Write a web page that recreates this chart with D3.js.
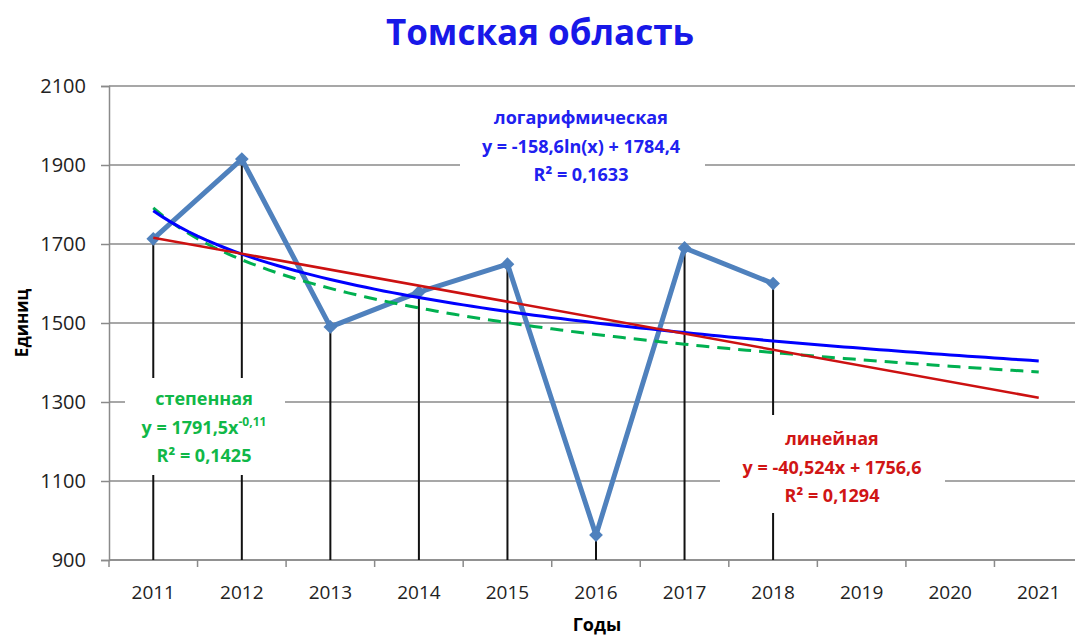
<!DOCTYPE html>
<html>
<head>
<meta charset="utf-8">
<script src="https://cdn.jsdelivr.net/npm/d3@7"></script>
<style>
  body { margin: 0; background: #fff; }
  svg { display: block; font-family: "Open Sans", "DejaVu Sans", sans-serif; }
</style>
</head>
<body>
<div id="chart"></div>
<script>
// categories and series
const years = ["2011", "2012", "2013", "2014", "2015", "2016", "2017", "2018", "2019", "2020", "2021"];
const values = [1713, 1915, 1490, 1578, 1649, 963, 1690, 1600];
const yTicks = [900, 1100, 1300, 1500, 1700, 1900, 2100];

// trend line coefficients, as printed on the chart
const linCoef = [-40.524, 1756.6];
const logCoef = [-158.6, 1784.4];
const powCoef = [1791.5, -0.11];

const W = 1075, H = 637;
const margin = { top: 86, right: -8, bottom: 77, left: 109 };

const svg = d3.select("#chart").append("svg")
    .attr("width", W)
    .attr("height", H);

const x = d3.scaleBand()
    .domain(years)
    .range([margin.left, W - margin.right]);

const y = d3.scaleLinear()
    .domain([900, 2100])
    .range([H - margin.bottom, margin.top]);

// x position for a trend "period" t (1 = first category)
const xt = t => x(years[0]) + x.bandwidth() / 2 + (t - 1) * x.step();

// title
svg.append("text")
    .attr("x", 540).attr("y", 45)
    .attr("text-anchor", "middle")
    .attr("font-size", 35).attr("font-weight", "bold")
    .attr("fill", "#1818e8")
    .text("Томская область");

// horizontal grid
svg.append("g")
    .selectAll("line")
    .data(yTicks)
    .enter().append("line")
    .attr("x1", margin.left).attr("x2", W)
    .attr("y1", d => y(d)).attr("y2", d => y(d))
    .attr("stroke", "#8a8a8a").attr("stroke-width", 1.5);

// y axis
const yAxis = svg.append("g")
    .attr("transform", "translate(" + margin.left + ",0)")
    .call(d3.axisLeft(y).tickValues(yTicks).tickSize(8).tickPadding(15).tickFormat(d3.format("d")));
yAxis.select(".domain").attr("stroke", "#8a8a8a").attr("stroke-width", 1.5);
yAxis.selectAll(".tick line").attr("stroke", "#8a8a8a").attr("stroke-width", 1.5);
yAxis.selectAll("text").attr("font-size", 20).attr("fill", "#222").attr("font-family", "Open Sans");

// x axis (ticks between categories)
const xAxis = svg.append("g")
    .attr("transform", "translate(0," + y(900) + ")");
xAxis.append("line")
    .attr("x1", margin.left).attr("x2", W)
    .attr("stroke", "#8a8a8a").attr("stroke-width", 1.5);
xAxis.selectAll(".tk")
    .data(years)
    .enter().append("line")
    .attr("x1", d => x(d)).attr("x2", d => x(d))
    .attr("y1", 0).attr("y2", 7)
    .attr("stroke", "#8a8a8a").attr("stroke-width", 1.5);
xAxis.selectAll(".lbl")
    .data(years)
    .enter().append("text")
    .attr("x", d => x(d) + x.bandwidth() / 2)
    .attr("y", 39)
    .attr("text-anchor", "middle")
    .attr("font-size", 19).attr("fill", "#222")
    .text(d => d);

// axis titles
svg.append("text")
    .attr("x", 597).attr("y", 631)
    .attr("text-anchor", "middle")
    .attr("font-size", 18).attr("font-weight", "bold")
    .text("Годы");
svg.append("text")
    .attr("transform", "translate(28,323) rotate(-90)")
    .attr("text-anchor", "middle")
    .attr("font-size", 17).attr("font-weight", "bold")
    .text("Единиц");

// drop lines
const cx = (d, i) => x(years[i]) + x.bandwidth() / 2;
svg.append("g")
    .selectAll("line")
    .data(values)
    .enter().append("line")
    .attr("x1", cx).attr("x2", cx)
    .attr("y1", d => y(d)).attr("y2", y(900))
    .attr("stroke", "#111").attr("stroke-width", 2);

// data series
svg.append("path")
    .datum(values)
    .attr("fill", "none")
    .attr("stroke", "#4f81bd")
    .attr("stroke-width", 5)
    .attr("stroke-linejoin", "round")
    .attr("d", d3.line().x(cx).y(d => y(d)));

svg.append("g")
    .selectAll("path")
    .data(values)
    .enter().append("path")
    .attr("transform", (d, i) => "translate(" + cx(d, i) + "," + y(d) + ")")
    .attr("d", d3.symbol(d3.symbolDiamond2, 120))
    .attr("fill", "#4f81bd");

// trend lines
const ts = d3.range(1, 11.001, 0.1);
const trend = d3.line().x(t => xt(t[0])).y(t => y(t[1]));

svg.append("path")
    .datum(ts.map(t => [t, powCoef[0] * Math.pow(t, powCoef[1])]))
    .attr("fill", "none").attr("stroke", "#00b050")
    .attr("stroke-width", 3).attr("stroke-dasharray", "13,8")
    .attr("d", trend);

svg.append("path")
    .datum(ts.map(t => [t, logCoef[0] * Math.log(t) + logCoef[1]]))
    .attr("fill", "none").attr("stroke", "#0000ff")
    .attr("stroke-width", 3)
    .attr("d", trend);

svg.append("path")
    .datum([1, 11].map(t => [t, linCoef[0] * t + linCoef[1]]))
    .attr("fill", "none").attr("stroke", "#cc1111")
    .attr("stroke-width", 2.5)
    .attr("d", trend);

// trend labels with white boxes
function label(box, cxl, base, color, lines) {
    svg.append("rect")
        .attr("x", box[0]).attr("y", box[1])
        .attr("width", box[2]).attr("height", box[3])
        .attr("fill", "#fff");
    const t = svg.append("text")
        .attr("text-anchor", "middle")
        .attr("font-size", 18).attr("font-weight", "bold")
        .attr("fill", color);
    lines.forEach((ln, i) => {
        const row = t.append("tspan").attr("x", cxl).attr("y", base + i * 28.5);
        if (Array.isArray(ln)) {
            row.text(ln[0]);
            t.append("tspan").attr("dy", -8).attr("font-size", 12).text(ln[1]);
        } else {
            row.text(ln);
        }
    });
}

label([460, 98, 245, 94], 581, 124, "#2020f0",
    ["логарифмическая", "y = -158,6ln(x) + 1784,4", "R² = 0,1633"]);
label([720, 415, 225, 98], 832, 445, "#d01515",
    ["линейная", "y = -40,524x + 1756,6", "R² = 0,1294"]);
label([125, 378, 160, 97], 204, 405, "#10b848",
    ["степенная", ["y = 1791,5x", "-0,11"], "R² = 0,1425"]);
</script>
</body>
</html>
